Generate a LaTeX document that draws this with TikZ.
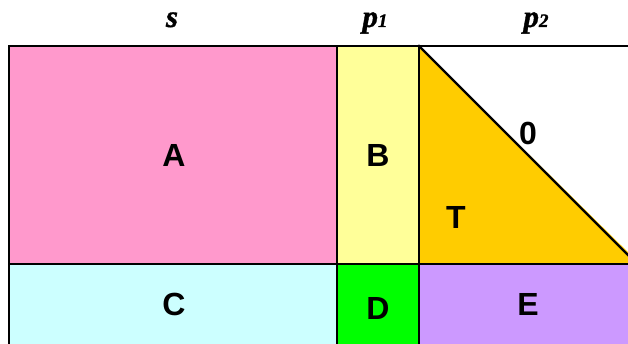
\documentclass[tikz,border=0pt]{standalone}
\usepackage{fontspec}
\setmainfont{Liberation Serif}[BoldItalicFeatures={FakeBold=1.2}]
\setsansfont{Liberation Sans}
\definecolor{cA}{HTML}{FF99CC}
\definecolor{cB}{HTML}{FFFF99}
\definecolor{cT}{HTML}{FFCC00}
\definecolor{cC}{HTML}{CCFFFF}
\definecolor{cD}{HTML}{00FF00}
\definecolor{cE}{HTML}{CC99FF}
\begin{document}
\begin{tikzpicture}[x=1pt,y=-1pt,
  lbl/.style={font=\sffamily\bfseries\fontsize{32}{32}\selectfont,inner sep=0pt},
  hdr/.style={font=\bfseries\itshape\fontsize{31}{31}\selectfont,inner sep=0pt,anchor=base},
  edge/.style={line width=2.2pt,line cap=rect}]
\useasboundingbox (0,0) rectangle (628,344);
\clip (0,0) rectangle (628,344);
% fills
\fill[cA] (9,46) rectangle (337,264);
\fill[cB] (337,46) rectangle (419,264);
\fill[cT] (419,46) -- (640,264) -- (419,264) -- cycle;
\fill[cC] (9,264) rectangle (337,350);
\fill[cD] (337,264) rectangle (419,350);
\fill[cE] (419,264) rectangle (640,350);
% lines
\coordinate (tl) at (9,46);
\coordinate (tr) at (640,46);
\coordinate (ml) at (9,264);
\coordinate (mr) at (640,264);
\coordinate (bl) at (9,350);
\coordinate (v1t) at (337,46);
\coordinate (v1b) at (337,350);
\coordinate (v2t) at (419,46);
\coordinate (v2b) at (419,350);
\coordinate (hyp) at (640,267);
\draw[edge] (tl) -- (tr);
\draw[edge] (ml) -- (mr);
\draw[edge] (tl) -- (bl);
\draw[edge] (v1t) -- (v1b);
\draw[edge] (v2t) -- (v2b);
\draw[edge] (v2t) -- (hyp);
% labels
\node[lbl] (A) at (174,155) {A};
\node[lbl] (B) at (378,155) {B};
\node[lbl] (T) at (456,217) {T};
\node[lbl] (Z) at (528,133) {0};
\node[lbl] (C) at (174,304) {C};
\node[lbl] (D) at (378,308) {D};
\node[lbl] (E) at (528,304) {E};
\node[hdr] (s) at (172,27) {s};
\node[hdr] (p1) at (375,27) {p{\fontsize{19}{19}\selectfont 1}};
\node[hdr] (p2) at (536,27) {p{\fontsize{19}{19}\selectfont 2}};
\end{tikzpicture}
\end{document}
